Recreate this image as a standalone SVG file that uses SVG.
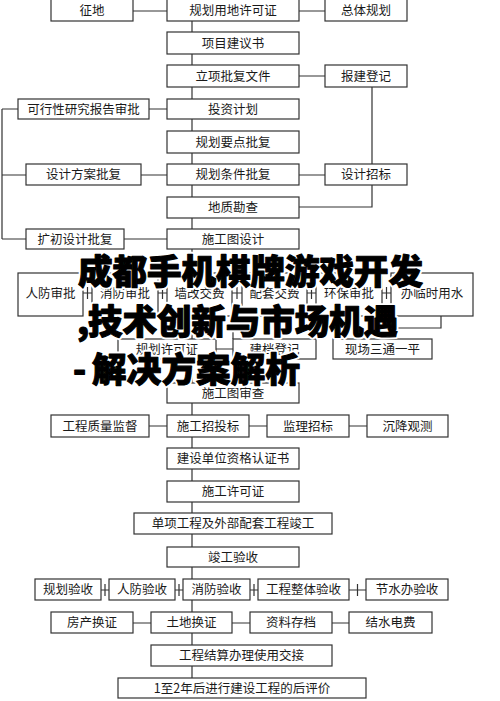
<svg xmlns="http://www.w3.org/2000/svg" width="500" height="701" viewBox="0 0 500 701">
<style>
.b rect{fill:#fff;stroke:#333;stroke-width:1.2}
.b text{font-family:"Noto Sans CJK SC","Noto Sans",sans-serif;font-size:12.5px;fill:#1a1a1a;text-anchor:middle}
#connectors{stroke:#333;stroke-width:1.2;fill:none}
.ov{font-family:"Noto Sans CJK SC","Noto Sans",sans-serif;font-weight:900;font-size:34.5px;fill:#000}
.halo{stroke:#fff;stroke-width:5;stroke-linejoin:round}
.ink{stroke:#000;stroke-width:1.1;stroke-linejoin:round}
</style>
<defs>
<g id="ovtext">
<text x="78" y="284" textLength="345" lengthAdjust="spacing">成都手机棋牌游戏开发</text>
<text y="334"><tspan x="77">,</tspan><tspan x="88" textLength="310" lengthAdjust="spacing">技术创新与市场机遇</tspan></text>
<text y="382"><tspan x="73">-</tspan><tspan x="92" textLength="208" lengthAdjust="spacing">解决方案解析</tspan></text>
</g>
</defs>
<rect width="500" height="701" fill="#fff"/>
<g id="connectors">
<path d="M192 21V678"/>
<path d="M133 11H167M299 11H325M299 76H325M372 87V164"/>
<path d="M149 109H167M2 109H18M2 109V239M2 175H26M2 239H26"/>
<path d="M141 175H167M299 175H325M372 185V207H299M124 239H167"/>
<path d="M83 293H92M87.5 287V299M158 293H167M162.5 287V299M232 293H242M237 287V299M307 293H316M311.5 287V299M382 293H391M386.5 287V299"/>
<path d="M441 316V328H383M383 316V339M216 349H233M233 316V339"/>
<path d="M149 426H167M249 426H267M349 426H367"/>
<path d="M101 590H109M105 584V596M175 590H183M179 584V596M250 590H258M254 584V596M349 590H366M357.5 584V596"/>
<path d="M133 623H151M232 623H250M332 623H349"/>
</g>
<g id="n1" class="b"><rect x="51" y="-2" width="82" height="23"/><text x="92" y="15">征地</text></g>
<g id="n2" class="b"><rect x="167" y="-2" width="132" height="23"/><text x="233" y="15">规划用地许可证</text></g>
<g id="n3" class="b"><rect x="325" y="-2" width="82" height="23"/><text x="366" y="15">总体规划</text></g>
<g id="n4" class="b"><rect x="167" y="32" width="132" height="22"/><text x="233" y="47.5">项目建议书</text></g>
<g id="n5" class="b"><rect x="167" y="65" width="132" height="22"/><text x="233" y="80.5">立项批复文件</text></g>
<g id="n6" class="b"><rect x="325" y="65" width="82" height="22"/><text x="366" y="80.5">报建登记</text></g>
<g id="n7" class="b"><rect x="167" y="99" width="132" height="20"/><text x="233" y="113.5">投资计划</text></g>
<g id="n8" class="b"><rect x="18" y="99" width="131" height="20"/><text x="83.5" y="113.5">可行性研究报告审批</text></g>
<g id="n9" class="b"><rect x="167" y="131" width="132" height="22"/><text x="233" y="146.5">规划要点批复</text></g>
<g id="n10" class="b"><rect x="167" y="164" width="132" height="21"/><text x="233" y="179">规划条件批复</text></g>
<g id="n11" class="b"><rect x="26" y="164" width="115" height="21"/><text x="83.5" y="179">设计方案批复</text></g>
<g id="n12" class="b"><rect x="325" y="164" width="82" height="21"/><text x="366" y="179">设计招标</text></g>
<g id="n13" class="b"><rect x="167" y="197" width="132" height="21"/><text x="233" y="212">地质勘查</text></g>
<g id="n14" class="b"><rect x="167" y="229" width="132" height="20"/><text x="233" y="243.5">施工图设计</text></g>
<g id="n15" class="b"><rect x="26" y="229" width="98" height="20"/><text x="75" y="243.5">扩初设计批复</text></g>
<g id="n16" class="b"><rect x="18" y="273" width="65" height="43"/><text x="50.5" y="298">人防审批</text></g>
<g id="n17" class="b"><rect x="92" y="273" width="66" height="43"/><text x="125" y="298">消防审批</text></g>
<g id="n18" class="b"><rect x="167" y="273" width="65" height="43"/><text x="199.5" y="298">墙改交费</text></g>
<g id="n19" class="b"><rect x="242" y="273" width="65" height="43"/><text x="274.5" y="298">配套交费</text></g>
<g id="n20" class="b"><rect x="316" y="273" width="66" height="43"/><text x="349" y="298">环保审批</text></g>
<g id="n21" class="b"><rect x="391" y="273" width="82" height="43"/><text x="432" y="298">办临时用水</text></g>
<g id="n22" class="b"><rect x="118" y="339" width="98" height="20"/><text x="167" y="353.5">规划许可证</text></g>
<g id="n23" class="b"><rect x="233" y="339" width="83" height="20"/><text x="274.5" y="353.5">建档登记</text></g>
<g id="n24" class="b"><rect x="333" y="339" width="99" height="20"/><text x="382.5" y="353.5">现场三通一平</text></g>
<g id="n25" class="b"><rect x="167" y="383" width="132" height="20"/><text x="233" y="397.5">施工图审查</text></g>
<g id="n26" class="b"><rect x="167" y="415" width="82" height="22"/><text x="208" y="430.5">施工招投标</text></g>
<g id="n27" class="b"><rect x="51" y="415" width="98" height="22"/><text x="100" y="430.5">工程质量监督</text></g>
<g id="n28" class="b"><rect x="267" y="415" width="82" height="22"/><text x="308" y="430.5">监理招标</text></g>
<g id="n29" class="b"><rect x="367" y="415" width="81" height="22"/><text x="407.5" y="430.5">沉降观测</text></g>
<g id="n30" class="b"><rect x="167" y="448" width="132" height="21"/><text x="233" y="463">建设单位资格认证书</text></g>
<g id="n31" class="b"><rect x="167" y="481" width="132" height="21"/><text x="233" y="496">施工许可证</text></g>
<g id="n32" class="b"><rect x="134" y="513" width="198" height="21"/><text x="233" y="528">单项工程及外部配套工程竣工</text></g>
<g id="n33" class="b"><rect x="167" y="547" width="132" height="20"/><text x="233" y="561.5">竣工验收</text></g>
<g id="n34" class="b"><rect x="35" y="579" width="66" height="21"/><text x="68" y="594">规划验收</text></g>
<g id="n35" class="b"><rect x="109" y="579" width="66" height="21"/><text x="142" y="594">人防验收</text></g>
<g id="n36" class="b"><rect x="183" y="579" width="67" height="21"/><text x="216.5" y="594">消防验收</text></g>
<g id="n37" class="b"><rect x="258" y="579" width="91" height="21"/><text x="303.5" y="594">工程整体验收</text></g>
<g id="n38" class="b"><rect x="366" y="579" width="82" height="21"/><text x="407" y="594">节水办验收</text></g>
<g id="n39" class="b"><rect x="51" y="612" width="82" height="21"/><text x="92" y="627">房产换证</text></g>
<g id="n40" class="b"><rect x="151" y="612" width="81" height="21"/><text x="191.5" y="627">土地换证</text></g>
<g id="n41" class="b"><rect x="250" y="612" width="82" height="21"/><text x="291" y="627">资料存档</text></g>
<g id="n42" class="b"><rect x="349" y="612" width="83" height="21"/><text x="390.5" y="627">结水电费</text></g>
<g id="n43" class="b"><rect x="151" y="645" width="181" height="21"/><text x="241.5" y="660">工程结算办理使用交接</text></g>
<g id="n44" class="b"><rect x="118" y="678" width="248" height="20"/><text x="242" y="692.5">1至2年后进行建设工程的后评价</text></g>
<g id="overlay" class="ov">
<use href="#ovtext" class="halo"/>
<use href="#ovtext" class="ink"/>
</g>
</svg>
